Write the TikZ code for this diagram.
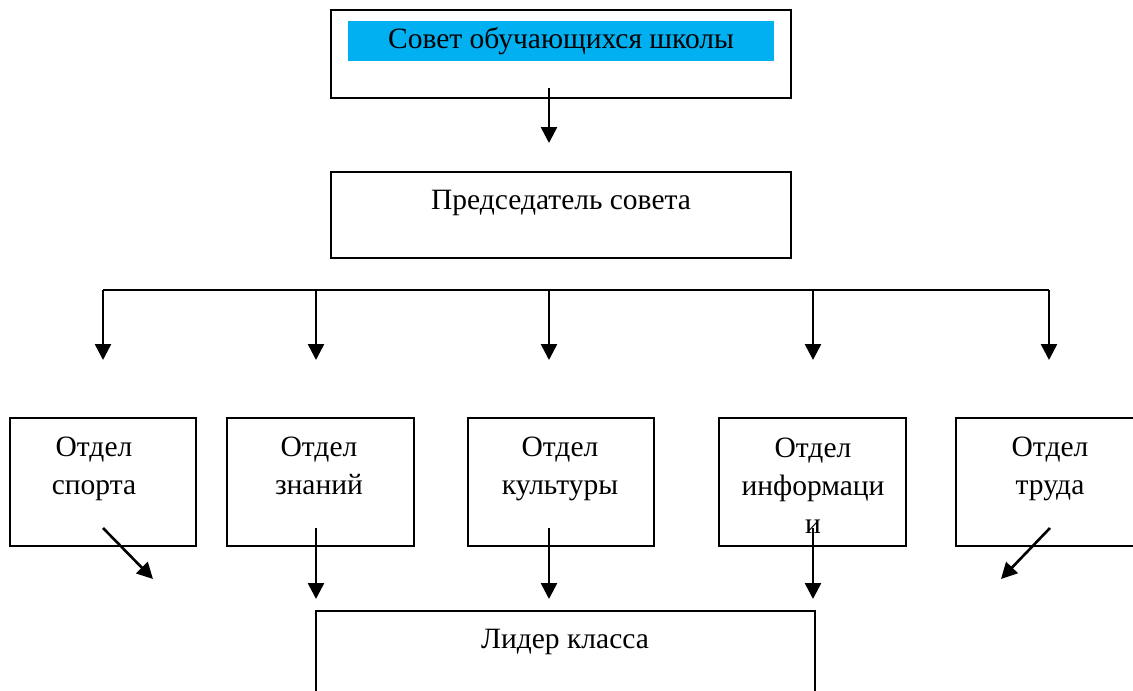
\documentclass[tikz,border=0pt]{standalone}
\usepackage{fontspec}
\setmainfont{Liberation Serif}
\usetikzlibrary{arrows.meta}
\definecolor{cyanbar}{HTML}{00B0F0}
\begin{document}
\begin{tikzpicture}[x=1pt,y=-1pt,
  boxnode/.style={draw=black, line width=2pt, rectangle, inner sep=0pt, outer sep=0pt, anchor=north west},
  barnode/.style={fill=cyanbar, rectangle, inner sep=0pt, outer sep=0pt, anchor=north west},
  txt/.style={font=\fontsize{29.5}{38}\selectfont, anchor=base, inner sep=0pt, align=center},
  conn/.style={line width=2.6pt, -{Triangle[width=16pt,length=16pt]}},
  plainline/.style={line width=2.4pt}]
\clip (0,0) rectangle (1133,691);
\fill[white] (0,0) rectangle (1133,691);
% top
\node[boxnode, minimum width=460pt, minimum height=88pt] (sovetbox) at (331,10) {};
\node[barnode, minimum width=426pt, minimum height=40pt] (sovetbar) at (348,21) {};
\node[txt] (sovettext) at (561,48) {Совет обучающихся школы};
\coordinate (a0s) at (549,88);
\coordinate (a0e) at (549,143);
\draw[conn] (a0s) -- (a0e);
% chairman
\node[boxnode, minimum width=460pt, minimum height=86pt] (predsbox) at (331,172) {};
\node[txt] (predstext) at (561,209) {Председатель совета};
% distribution line
\coordinate (hl) at (103,290);
\coordinate (hr) at (1049,290);
\draw[plainline] (hl) -- (hr);
\foreach \i/\x in {1/103,2/316,3/549,4/813,5/1049}{
  \coordinate (t\i) at (\x,290);
  \coordinate (e\i) at (\x,360);
  \draw[conn] (t\i) -- (e\i);
}
% departments
\node[boxnode, minimum width=186pt, minimum height=128pt] (d1) at (10,418) {};
\node[boxnode, minimum width=187pt, minimum height=128pt] (d2) at (227,418) {};
\node[boxnode, minimum width=186pt, minimum height=128pt] (d3) at (468,418) {};
\node[boxnode, minimum width=187pt, minimum height=128pt] (d4) at (719,418) {};
\node[boxnode, minimum width=200pt, minimum height=128pt] (d5) at (956,418) {};
% base anchor of a multi-line node is the baseline of its last line
\node[txt] (d1t) at (94,494) {Отдел\\спорта};
\node[txt] (d2t) at (319,494) {Отдел\\знаний};
\node[txt] (d3t) at (560,494) {Отдел\\культуры};
\node[txt] (d4t) at (813,533) {Отдел\\информаци\\и};
\node[txt] (d5t) at (1050,494) {Отдел\\труда};
% arrows to leader
\coordinate (s1) at (103,528);  \coordinate (f1) at (153,579);
\coordinate (s2) at (316,528);  \coordinate (f2) at (316,599);
\coordinate (s3) at (549,528);  \coordinate (f3) at (549,599);
\coordinate (s4) at (813,528);  \coordinate (f4) at (813,599);
\coordinate (s5) at (1050,528); \coordinate (f5) at (1001,579);
\foreach \i in {1,...,5}{\draw[conn] (s\i) -- (f\i);}
% leader
\node[boxnode, minimum width=499pt, minimum height=120pt] (leader) at (316,611) {};
\node[txt] (leadertext) at (565,648) {Лидер класса};
\end{tikzpicture}
\end{document}
